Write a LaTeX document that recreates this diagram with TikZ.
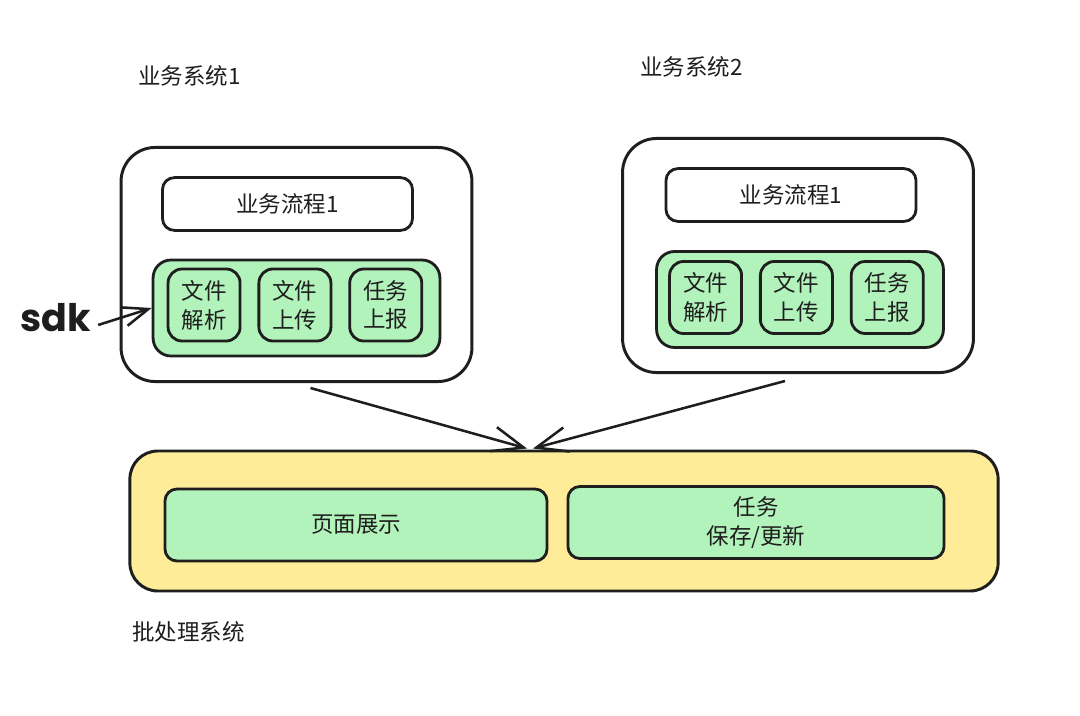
\documentclass[tikz,border=0pt]{standalone}
\usepackage{fontspec}
\setmainfont{Noto Sans CJK SC}
\newfontfamily\sdkfont{Poppins}
\usepackage{tikz}
\usetikzlibrary{arrows.meta,positioning,calc}
\usepackage{xcolor}

\definecolor{ink}{HTML}{1E1E1E}
\definecolor{toolgreen}{HTML}{B2F2BB}
\definecolor{batchyellow}{HTML}{FFEC99}
\newcommand{\lblfont}{\fontsize{16}{20.5}\selectfont}

\begin{document}
\begin{tikzpicture}[x=0.025cm, y=-0.025cm,
    system/.style={rectangle, draw=ink, line width=2.1pt, rounded corners=0.85cm, minimum width=8.77cm, minimum height=5.85cm},
    flowbox/.style={rectangle, draw=ink, line width=2pt, fill=white, rounded corners=0.3cm, minimum width=6.25cm, minimum height=1.32cm, font=\lblfont, text=ink},
    tools/.style={rectangle, draw=ink, line width=2pt, fill=toolgreen, rounded corners=0.45cm, minimum width=7.17cm, minimum height=2.4cm},
    tool/.style={rectangle, draw=ink, line width=2pt, fill=toolgreen, rounded corners=0.35cm, minimum width=1.8cm, minimum height=1.8cm, align=center, font=\lblfont, text=ink},
    batch/.style={rectangle, draw=ink, line width=2.1pt, fill=batchyellow, rounded corners=0.7cm, minimum width=21.7cm, minimum height=3.5cm},
    part/.style={rectangle, draw=ink, line width=2pt, fill=toolgreen, rounded corners=0.3cm, minimum height=1.8cm, align=center, font=\lblfont, text=ink},
    title/.style={anchor=west, inner sep=0pt, font=\lblfont, text=ink},
    flow/.style={-{Straight Barb[length=0.78cm, width=0.62cm]}, line width=1.8pt, ink}
]
    \useasboundingbox[fill=white] (0,0) rectangle (1080,716);

    % business system 1
    \node[title] (name1) at (138,76) {业务系统1};
    \node[system] (sys1) at (296.5,264.5) {};
    \node[flowbox] (flow1) at (287.5,204) {业务流程1};
    \node[tools] (tools1) at (296.5,308) {};
    \node[tool, anchor=west] (parse1) at ($(tools1.west)+(15,-3)$) {文件\\解析};
    \node[tool, right=0.4cm of parse1] (upload1) {文件\\上传};
    \node[tool, right=0.4cm of upload1] (report1) {任务\\上报};

    % business system 2
    \node[title] (name2) at (640,67) {业务系统2};
    \node[system] (sys2) at (798,255.5) {};
    \node[flowbox] (flow2) at (791,195) {业务流程1};
    \node[tools] (tools2) at (800,299.5) {};
    \node[tool, anchor=west] (parse2) at ($(tools2.west)+(13,-2)$) {文件\\解析};
    \node[tool, right=0.4cm of parse2] (upload2) {文件\\上传};
    \node[tool, right=0.4cm of upload2] (report2) {任务\\上报};

    \node[font=\sdkfont\fontsize{27}{30}\selectfont, text=ink] (sdk) at (56,318) {\textbf{sdk}};
    \draw[-{Straight Barb[length=0.62cm, width=0.48cm]}, line width=1.8pt, ink] ($(sdk.east)+(2,7)$) -- (tools1.west);

    % batch system
    \node[batch] (batch) at (564,521) {};
    \node[part, minimum width=9.55cm] (show) at (356,525) {页面展示};
    \node[part, minimum width=9.4cm] (save) at (756,522.5) {任务\\保存/更新};
    \node[title] (name3) at (132,632) {批处理系统};

    \draw[flow] ($(sys1.south)+(14,5)$) -- ($(batch.north)+(-37,-1)$);
    \draw[flow] ($(sys2.south)+(-13,7)$) -- ($(batch.north)+(-31,-1)$);
\end{tikzpicture}
\end{document}
